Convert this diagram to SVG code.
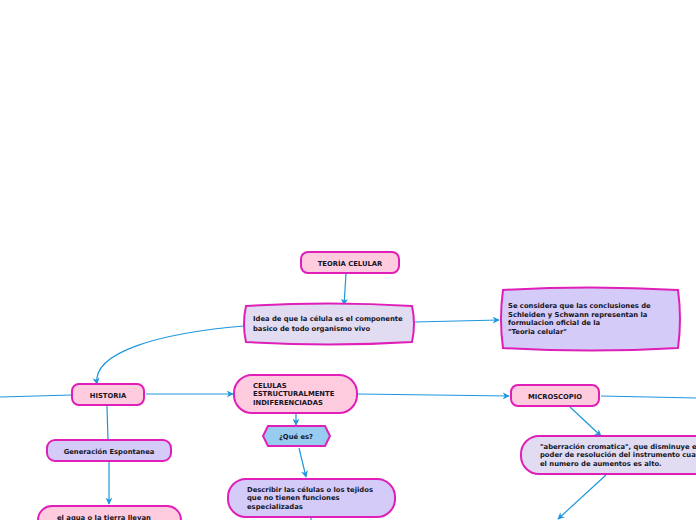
<svg xmlns="http://www.w3.org/2000/svg" width="696" height="520" viewBox="0 0 696 520">
<style>
.n{stroke:#df1fb8;stroke-width:2}
.pink{fill:#ffccdf}
.lav{fill:#d4cbf8}
.lt{fill:#e1dcf2}
.blue{fill:#98cbf0}
text{font-family:"DejaVu Sans",Verdana,sans-serif;font-weight:bold;font-size:6.8px;fill:#15151f}
.c{text-anchor:middle}
.e{fill:none;stroke:#1e96dc;stroke-width:1.2}
</style>
<defs>
<marker id="a" viewBox="0 0 10 10" refX="9" refY="5" markerWidth="7" markerHeight="7" markerUnits="userSpaceOnUse" orient="auto">
<path d="M0,0 L10,5 L0,10 L3,5 Z" fill="#1e96dc"/>
</marker>
</defs>
<rect width="696" height="520" fill="#ffffff"/>
<g id="connectors">
<path class="e" d="M346,274 L344,305" marker-end="url(#a)"/>
<path class="e" d="M415,322 L499,320" marker-end="url(#a)"/>
<path class="e" d="M244,326 C160,333 92,352 97,384" marker-end="url(#a)"/>
<path class="e" d="M0,397 L72,395"/>
<path class="e" d="M146,394 L233,394" marker-end="url(#a)"/>
<path class="e" d="M107,406 L108,440"/>
<path class="e" d="M109,462 L109,504" marker-end="url(#a)"/>
<path class="e" d="M296,414 L296,425" marker-end="url(#a)"/>
<path class="e" d="M299,448 L306,477" marker-end="url(#a)"/>
<path class="e" d="M311,518 L311,520"/>
<path class="e" d="M358,394 L509,396" marker-end="url(#a)"/>
<path class="e" d="M601,396 L696,398"/>
<path class="e" d="M570,407 L601,436" marker-end="url(#a)"/>
<path class="e" d="M606,475 L558,519" marker-end="url(#a)"/>
</g>
<g id="teoria">
<rect class="n pink" x="301" y="252" width="98" height="21" rx="7"/>
<text class="c" x="350" y="265.5">TEORÍA CELULAR</text>
</g>
<g id="idea">
<path class="n lt" d="M246,306 Q329,301 412,306 Q416,324 412,342 Q329,347 246,342 Q242,324 246,306 Z"/>
<text x="253" y="321">Idea de que la célula es el componente</text>
<text x="253" y="331">basico de todo organismo vivo</text>
</g>
<g id="seconsidera">
<path class="n lav" d="M503,290 Q590,285 678,290 Q682,319 678,348 Q590,353 503,348 Q499,319 503,290 Z"/>
<text x="508" y="308">Se considera que las conclusiones de</text>
<text x="508" y="316.5">Schleiden y Schwann representan la</text>
<text x="508" y="325">formulacion oficial de la</text>
<text x="508" y="333.5">"Teoria celular"</text>
</g>
<g id="historia">
<rect class="n pink" x="72" y="384" width="72" height="21" rx="7"/>
<text class="c" x="108" y="397.5">HISTORIA</text>
</g>
<g id="generacion">
<rect class="n lav" x="47" y="440" width="124" height="21" rx="8"/>
<text class="c" x="109" y="453.5">Generación Espontanea</text>
</g>
<g id="elagua">
<rect class="n pink" x="38" y="506" width="143" height="30" rx="14"/>
<text x="57" y="519.5">el agua o la tierra llevan</text>
</g>
<g id="celulas">
<rect class="n pink" x="234" y="375" width="123" height="38" rx="18"/>
<text x="253" y="387.5">CELULAS</text>
<text x="253" y="396">ESTRUCTURALMENTE</text>
<text x="253" y="404.5">INDIFERENCIADAS</text>
</g>
<g id="quees">
<path class="n blue" d="M268,426 L325,426 L330,436 L325,446 L268,446 L263,436 Z"/>
<text class="c" x="296" y="438.5">¿Qué es?</text>
</g>
<g id="describir">
<rect class="n lav" x="228" y="479" width="167" height="38" rx="18"/>
<text x="247" y="491.5">Describir las células o los tejidos</text>
<text x="247" y="500">que no tienen funciones</text>
<text x="247" y="508.5">especializadas</text>
</g>
<g id="microscopio">
<rect class="n pink" x="511" y="385" width="88" height="21" rx="7"/>
<text class="c" x="555" y="398.5">MICROSCOPIO</text>
</g>
<g id="aberracion">
<rect class="n lt" x="521" y="436" width="200" height="38" rx="18"/>
<text x="540" y="448.5">"aberración cromatica", que disminuye el</text>
<text x="540" y="457">poder de resolución del instrumento cuando</text>
<text x="540" y="465.5">el numero de aumentos es alto.</text>
</g>
</svg>
